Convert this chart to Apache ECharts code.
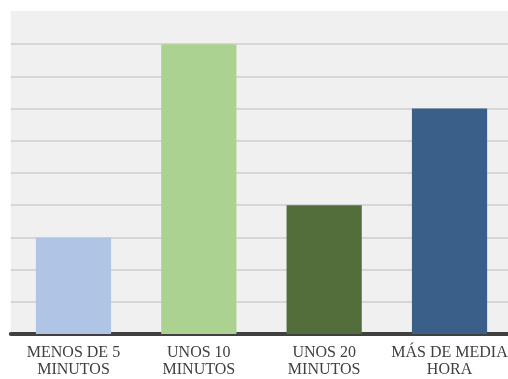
<!DOCTYPE html>
<html><head><meta charset="utf-8">
<script src="https://cdn.jsdelivr.net/npm/echarts@6/dist/echarts.min.js"></script>
<style>html,body{margin:0;padding:0;background:#fff}#c{width:508px;height:379px}</style>
</head><body><div id="c"></div>
<script>
const categories = ['MENOS DE 5\nMINUTOS', 'UNOS 10\nMINUTOS', 'UNOS 20\nMINUTOS', 'MÁS DE MEDIA\nHORA'];
const values = [3, 9, 4, 7];
const barColors = ['#b0c5e5', '#acd292', '#536d3b', '#3a5f88'];
const yMax = 10;

const gridColors = [];
for (let i = 0; i <= yMax; i++) gridColors.push(i === yMax ? '#f0f0f0' : '#d6d6d6');

const chart = echarts.init(document.getElementById('c'), null, {renderer: 'canvas'});
chart.setOption({
  animation: false,
  backgroundColor: '#ffffff',
  grid: {left: 10.8, width: 501.4, top: 12, bottom: 45, show: true, backgroundColor: '#f0f0f0', borderWidth: 0,
         outerBoundsMode: 'none', containLabel: false},
  xAxis: {
    type: 'category', data: categories,
    axisLine: {show: true, lineStyle: {color: '#404040', width: 4}},
    axisTick: {show: false},
    axisLabel: {color: '#404040', fontFamily: 'Liberation Serif', fontSize: 16, lineHeight: 17, margin: 10, interval: 0, hideOverlap: false}
  },
  yAxis: {
    type: 'value', min: 0, max: yMax, interval: 1,
    axisLabel: {show: false}, axisLine: {show: false}, axisTick: {show: false},
    splitLine: {show: true, lineStyle: {color: gridColors, width: 2}}
  },
  series: [{
    type: 'bar', barWidth: '60%',
    data: values.map((v, i) => ({value: v, itemStyle: {color: barColors[i]}}))
  }]
});
</script></body></html>
